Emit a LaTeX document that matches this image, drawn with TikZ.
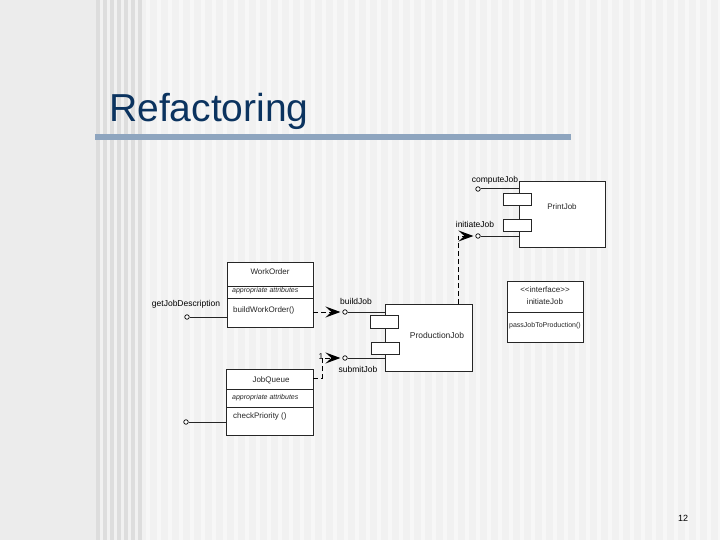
\documentclass[tikz,border=0pt]{standalone}
\usepackage{fontspec}
\setmainfont{Liberation Sans}
\usetikzlibrary{arrows.meta}
\definecolor{titleblue}{HTML}{0B335F}
\definecolor{barblue}{HTML}{8EA5BF}
\definecolor{bgl}{HTML}{ECECEC}
\definecolor{bgs}{HTML}{F1F1F1}
\definecolor{bgd}{HTML}{DDDDDD}
\begin{document}
\begin{tikzpicture}[x=1pt,y=-1pt,
  box/.style={draw=black!85,fill=white,line width=0.9pt,inner sep=0pt,anchor=north west},
  sep/.style={draw=black!85,line width=0.8pt},
  port/.style={circle,draw=black,fill=white,line width=0.7pt,inner sep=0pt,minimum size=4.5pt},
  wire/.style={draw=black!85,line width=1pt},
  dep/.style={draw=black,line width=1pt,dashed,dash pattern=on 5pt off 3pt,-{Stealth[length=15pt,width=11pt,inset=6pt]}},
  lbl/.style={font=\fontsize{8.5}{9}\selectfont,inner sep=0pt,text=black},
  cls/.style={font=\fontsize{8}{9}\selectfont,inner sep=0pt,text=black!85},
  attr/.style={font=\itshape\fontsize{7}{8}\selectfont,inner sep=0pt,anchor=west,text=black!85},
  meth/.style={font=\fontsize{8}{9}\selectfont,inner sep=0pt,anchor=west,text=black!85}]
\useasboundingbox (0,0) rectangle (720,540);
% background
\fill[bgl] (0,0) rectangle (720,540);
\fill[bgs] (96,0) rectangle (720,540);
\foreach \i in {0,...,6} {\fill[bgd] (96+\i*7,0) rectangle (99.5+\i*7,540);}
\foreach \i in {0,...,52} {\fill[white,opacity=0.45] (146+\i*11,0) rectangle (150+\i*11,540);}
% title
\node[anchor=base west,inner sep=0pt,text=titleblue,font=\fontsize{39}{40}\selectfont] (title) at (109,122) {Refactoring};
\fill[barblue] (95,134) rectangle (571,140);
% PrintJob
\node[box,minimum width=86pt,minimum height=66pt] (pj) at (519,181) {};
\node[box,minimum width=28pt,minimum height=12pt] (pjp1) at (503,193) {};
\node[box,minimum width=28pt,minimum height=12pt] (pjp2) at (503,219) {};
\node[cls] (pjt) at (562,207) {PrintJob};
\coordinate (pjin1) at (519,189);
\coordinate (pjin2) at (519,236);
\node[port] (cj) at (478,189) {};
\node[port] (ij) at (478,236) {};
\draw[wire] (cj) -- (pjin1);
\draw[wire] (ij) -- (pjin2);
\node[lbl] (cjl) at (495,180) {computeJob};
\node[lbl] (ijl) at (475,224) {initiateJob};
% ProductionJob
\node[box,minimum width=87pt,minimum height=67pt] (prj) at (385,304) {};
\node[box,minimum width=28pt,minimum height=13pt] (prp1) at (370,315) {};
\node[box,minimum width=28pt,minimum height=12pt] (prp2) at (371,342) {};
\node[cls,font=\fontsize{8.5}{9}\selectfont] (prt) at (437,335) {ProductionJob};
\coordinate (prin1) at (385,312);
\coordinate (prin2) at (385,358);
\node[port] (bj) at (345,312) {};
\node[port] (sj) at (345,358) {};
\draw[wire] (bj) -- (prin1);
\draw[wire] (sj) -- (prin2);
\node[lbl] (bjl) at (356,301) {buildJob};
\node[lbl] (sjl) at (358,369) {submitJob};
\node[lbl] (one) at (321,357) {1};
% interface
\node[box,minimum width=76pt,minimum height=61pt] (itf) at (507,281) {};
\draw[sep] (507,312) -- (583,312);
\node[cls] (itf1) at (545,290) {{<}{<}interface{>}{>}};
\node[cls] (itf2) at (545,302) {initiateJob};
\node[cls,font=\fontsize{7}{8}\selectfont] (itf3) at (545,326) {passJobToProduction()};
% WorkOrder
\node[box,minimum width=86pt,minimum height=65pt] (wo) at (227,262) {};
\draw[sep] (227,286) -- (313,286);
\draw[sep] (227,298) -- (313,298);
\node[cls] (wot) at (270,272) {WorkOrder};
\node[attr] (woa) at (232,291) {appropriate attributes};
\node[meth] (wom) at (233,310) {buildWorkOrder()};
\node[port] (gjd) at (187,317) {};
\coordinate (woin) at (227,317);
\draw[wire] (gjd) -- (woin);
\node[lbl] (gjdl) at (186,304) {getJobDescription};
% JobQueue
\node[box,minimum width=87pt,minimum height=66pt] (jq) at (226,369) {};
\draw[sep] (226,389) -- (313,389);
\draw[sep] (226,407) -- (313,407);
\node[cls] (jqt) at (271,380) {JobQueue};
\node[attr] (jqa) at (232,398) {appropriate attributes};
\node[meth] (jqm) at (233,416) {checkPriority ()};
\node[port] (jqp) at (186,422) {};
\coordinate (jqin) at (226,422);
\draw[wire] (jqp) -- (jqin);
% dependencies
\coordinate (prtop) at (458,304);
\draw[dep] (prtop) |- ([xshift=-2pt]ij.west);
\coordinate (wout) at (313,312);
\draw[dep] (wout) -- ([xshift=-2pt]bj.west);
\coordinate (jqout) at (313,378);
\draw[dep] (jqout) -| (322,358) -- ([xshift=-2pt]sj.west);
% page number
\node[inner sep=0pt,font=\fontsize{9}{10}\selectfont] (pg) at (683,518) {12};
\end{tikzpicture}
\end{document}
